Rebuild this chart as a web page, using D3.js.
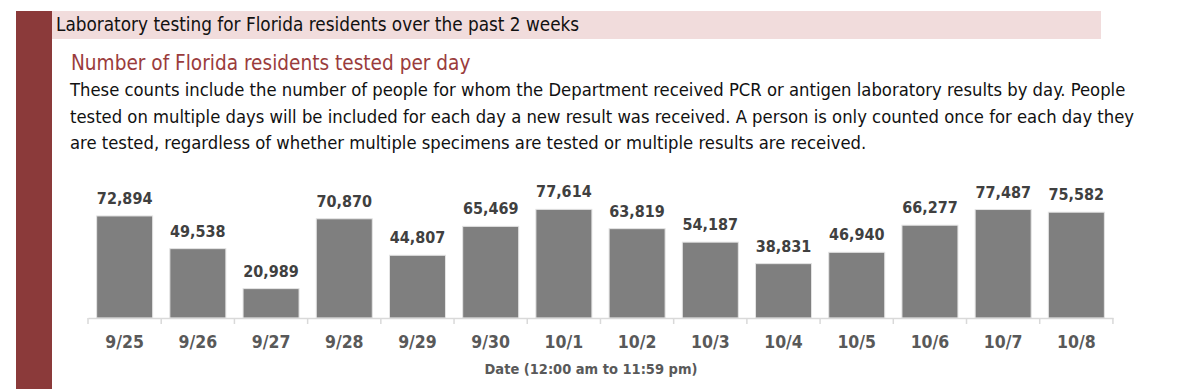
<!DOCTYPE html>
<html>
<head>
<meta charset="utf-8">
<script src="https://cdn.jsdelivr.net/npm/d3@7"></script>
<style>
  body { margin: 0; background: #fff; }
  text { font-family: "Liberation Sans Narrow", "DejaVu Sans Condensed", "Roboto", sans-serif; }
</style>
</head>
<body>
<div id="chart"></div>
<script>
// Data
const dates = ["9/25", "9/26", "9/27", "9/28", "9/29", "9/30", "10/1", "10/2", "10/3", "10/4", "10/5", "10/6", "10/7", "10/8"];
const tested = [72894, 49538, 20989, 70870, 44807, 65469, 77614, 63819, 54187, 38831, 46940, 66277, 77487, 75582];

const headerText = "Laboratory testing for Florida residents over the past 2 weeks";
const titleText = "Number of Florida residents tested per day";
const bodyLines = [
  "These counts include the number of people for whom the Department received PCR or antigen laboratory results by day. People",
  "tested on multiple days will be included for each day a new result was received. A person is only counted once for each day they",
  "are tested, regardless of whether multiple specimens are tested or multiple results are received."
];
const xTitle = "Date (12:00 am to 11:59 pm)";

// Container
const W = 1200, H = 389;
const svg = d3.select("#chart").append("svg").attr("width", W).attr("height", H);

// side band + header
svg.append("rect").attr("x", 16).attr("y", 11).attr("width", 36).attr("height", H - 11).attr("fill", "#8b3a3a");
svg.append("rect").attr("x", 52).attr("y", 11).attr("width", 1049).attr("height", 28).attr("fill", "#f1dcdc");
svg.append("text").attr("x", 56).attr("y", 31).attr("font-size", 18.8).attr("fill", "#111").text(headerText);

svg.append("text").attr("x", 71).attr("y", 70).attr("font-size", 20.6).attr("fill", "#9a3c3c").text(titleText);
svg.selectAll("text.body").data(bodyLines).join("text")
  .attr("class", "body")
  .attr("x", 70)
  .attr("y", (d, i) => 96 + i * 26.5)
  .attr("font-size", 18.3)
  .attr("fill", "#111")
  .text(d => d);

// Scales
const x = d3.scaleBand().domain(dates).range([88, 1113]).paddingInner(0.235).paddingOuter(0.118);
const y = d3.scaleLinear().domain([0, 100000]).range([318, 178]);

// Bars
svg.selectAll("rect.bar").data(tested).join("rect")
  .attr("class", "bar")
  .attr("x", (d, i) => x(dates[i]))
  .attr("y", d => y(d))
  .attr("width", x.bandwidth())
  .attr("height", d => y(0) - y(d))
  .attr("fill", "#7f7f7f")
  .attr("stroke", "#e4e4e4")
  .attr("stroke-width", 1);

// Value labels
svg.selectAll("text.val").data(tested).join("text")
  .attr("class", "val")
  .attr("x", (d, i) => x(dates[i]) + x.bandwidth() / 2)
  .attr("y", d => y(d) - 12)
  .attr("text-anchor", "middle")
  .attr("font-size", 16)
  .attr("font-weight", "bold")
  .attr("fill", "#404040")
  .text(d => d3.format(",")(d));

// X axis
const axis = svg.append("g").attr("transform", "translate(0,318)")
  .call(d3.axisBottom(x).tickSize(0).tickPadding(18));
axis.select(".domain").attr("stroke", "#d9d9d9").attr("stroke-width", 1.5);
axis.selectAll(".tick text")
  .attr("font-size", 17.5)
  .attr("font-weight", "bold")
  .attr("fill", "#595959")
  .style("font-family", "\"Liberation Sans Narrow\", \"DejaVu Sans Condensed\", sans-serif");

// category boundary ticks
const step = x.step();
const bounds = d3.range(dates.length + 1).map(i => x.range()[0] + i * step);
svg.selectAll("line.bnd").data(bounds).join("line")
  .attr("class", "bnd")
  .attr("x1", d => d).attr("x2", d => d)
  .attr("y1", 318).attr("y2", 324)
  .attr("stroke", "#d9d9d9").attr("stroke-width", 1.5);

svg.append("text").attr("x", 591).attr("y", 374)
  .attr("text-anchor", "middle")
  .attr("font-size", 14.5)
  .attr("font-weight", "bold")
  .attr("fill", "#595959")
  .text(xTitle);
</script>
</body>
</html>
